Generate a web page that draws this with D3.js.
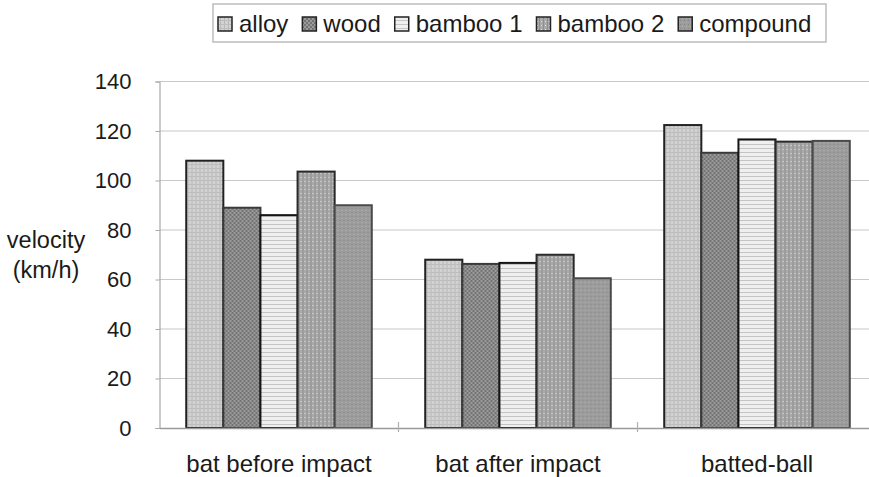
<!DOCTYPE html>
<html>
<head>
<meta charset="utf-8">
<script src="https://cdn.jsdelivr.net/npm/d3@7"></script>
<style>
  html, body { margin: 0; padding: 0; background: #fff; }
  svg { display: block; }
  text { font-family: "Liberation Sans", Arial, sans-serif; fill: #1a1a1a; }
</style>
</head>
<body>
<svg id="chart" width="869" height="477"></svg>
<script>
const categories = ["bat before impact", "bat after impact", "batted-ball"];
const series = ["alloy", "wood", "bamboo 1", "bamboo 2", "compound"];
const alloy    = [108, 68, 122.4];
const wood     = [89, 66.3, 111.2];
const bamboo1  = [86, 66.7, 116.6];
const bamboo2  = [103.6, 70, 115.7];
const compound = [90, 60.5, 116];
const yTicks = [0, 20, 40, 60, 80, 100, 120, 140];
const yLabel = ["velocity", "(km/h)"];

const values = [alloy, wood, bamboo1, bamboo2, compound];

const svg = d3.select("#chart");
const defs = svg.append("defs");

// texture patterns for each series
function pat(id, bg, draw) {
  const p = defs.append("pattern").attr("id", id)
    .attr("patternUnits", "userSpaceOnUse").attr("width", 4).attr("height", 4);
  p.append("rect").attr("width", 4).attr("height", 4).attr("fill", bg);
  draw(p);
}
pat("p-alloy", "#d2d2d2", p => {
  p.append("rect").attr("x", 0).attr("y", 0).attr("width", 1).attr("height", 4).attr("fill", "#b8b8b8");
  p.append("rect").attr("x", 0).attr("y", 0).attr("width", 4).attr("height", 1).attr("fill", "#bdbdbd");
});
pat("p-wood", "#9a9a9a", p => {
  p.append("rect").attr("x", 0).attr("y", 0).attr("width", 2).attr("height", 2).attr("fill", "#737373");
  p.append("rect").attr("x", 2).attr("y", 2).attr("width", 2).attr("height", 2).attr("fill", "#737373");
});
pat("p-bamboo1", "#efefef", p => {
  p.append("rect").attr("x", 0).attr("y", 0).attr("width", 4).attr("height", 1).attr("fill", "#c4c4c4");
});
pat("p-bamboo2", "#a9a9a9", p => {
  p.append("rect").attr("x", 1).attr("y", 1).attr("width", 1).attr("height", 1).attr("fill", "#e0e0e0");
  p.append("rect").attr("x", 3).attr("y", 0).attr("width", 1).attr("height", 4).attr("fill", "#8e8e8e");
});
pat("p-compound", "#9c9c9c", p => {
  p.append("rect").attr("x", 0).attr("y", 0).attr("width", 1).attr("height", 1).attr("fill", "#868686");
  p.append("rect").attr("x", 2).attr("y", 2).attr("width", 1).attr("height", 1).attr("fill", "#b0b0b0");
});
const fills = ["url(#p-alloy)", "url(#p-wood)", "url(#p-bamboo1)", "url(#p-bamboo2)", "url(#p-compound)"];
const strokes = ["#222", "#3a3a3a", "#151515", "#2a2a2a", "#4a4a4a"];

const plotLeft = 159.5, step = 239, plotTop = 81.5, plotBottom = 428;
const x0 = d3.scaleBand().domain(categories).range([plotLeft, plotLeft + 3 * step]).padding(0);
const x1 = d3.scaleBand().domain(series).range([0, x0.bandwidth()]).paddingInner(0).paddingOuter(0.72);
const y = d3.scaleLinear().domain([0, 140]).range([plotBottom, plotTop]);

// gridlines
svg.append("g").selectAll("line").data(yTicks.filter(d => d > 0)).join("line")
  .attr("x1", plotLeft).attr("x2", 869)
  .attr("y1", d => y(d)).attr("y2", d => y(d))
  .attr("stroke", "#c8c8c8").attr("stroke-width", 1.2);

// y axis
const yAxis = d3.axisLeft(y).tickValues(yTicks).tickSize(4).tickPadding(24);
const gy = svg.append("g").attr("transform", `translate(${plotLeft},0)`).call(yAxis);
gy.select(".domain").attr("stroke", "#a8a8a8").attr("stroke-width", 1.2);
gy.selectAll(".tick line").attr("stroke", "#a8a8a8");
gy.selectAll(".tick text").style("font-size", "22px").attr("fill", "#1a1a1a")
  .style("font-family", "'Liberation Sans', Arial, sans-serif");

// bars
const groups = svg.append("g").selectAll("g").data(categories).join("g")
  .attr("transform", d => `translate(${x0(d)},0)`);
groups.selectAll("rect")
  .data((c, ci) => series.map((s, si) => ({ s, si, v: values[si][ci] })))
  .join("rect")
  .attr("x", d => x1(d.s))
  .attr("width", x1.bandwidth())
  .attr("y", d => y(d.v))
  .attr("height", d => plotBottom - y(d.v))
  .attr("fill", d => fills[d.si])
  .attr("stroke", d => strokes[d.si])
  .attr("stroke-width", 2);

// x axis
const xAxis = d3.axisBottom(x0).tickSize(0).tickPadding(27);
const gx = svg.append("g").attr("transform", `translate(0,${plotBottom})`).call(xAxis);
gx.select(".domain").attr("stroke", "#9a9a9a").attr("stroke-width", 1.5);
gx.selectAll(".tick text").style("font-size", "24px").attr("fill", "#1a1a1a")
  .style("font-family", "'Liberation Sans', Arial, sans-serif");
// category separator ticks
svg.append("g").selectAll("line").data(categories.slice(1)).join("line")
  .attr("x1", d => x0(d)).attr("x2", d => x0(d))
  .attr("y1", plotBottom - 6).attr("y2", plotBottom + 4)
  .attr("stroke", "#b0b0b0").attr("stroke-width", 1.2);

// y label
svg.append("g").selectAll("text").data(yLabel).join("text")
  .attr("x", 46).attr("y", (d, i) => 248 + i * 30)
  .attr("text-anchor", "middle").style("font-size", "23.5px").text(d => d);

// legend
const lg = svg.append("g");
lg.append("rect").attr("x", 213).attr("y", 4).attr("width", 613).attr("height", 38)
  .attr("fill", "#fff").attr("stroke", "#bdbdbd").attr("stroke-width", 1.5);
let lx = 218;
series.forEach((s, i) => {
  lg.append("rect").attr("x", lx).attr("y", 17).attr("width", 14).attr("height", 14)
    .attr("fill", fills[i]).attr("stroke", "#222").attr("stroke-width", 1.5);
  const t = lg.append("text").attr("x", lx + 21).attr("y", 32).style("font-size", "24px").text(s);
  lx += 21 + t.node().getComputedTextLength() + 14;
});
</script>
</body>
</html>
